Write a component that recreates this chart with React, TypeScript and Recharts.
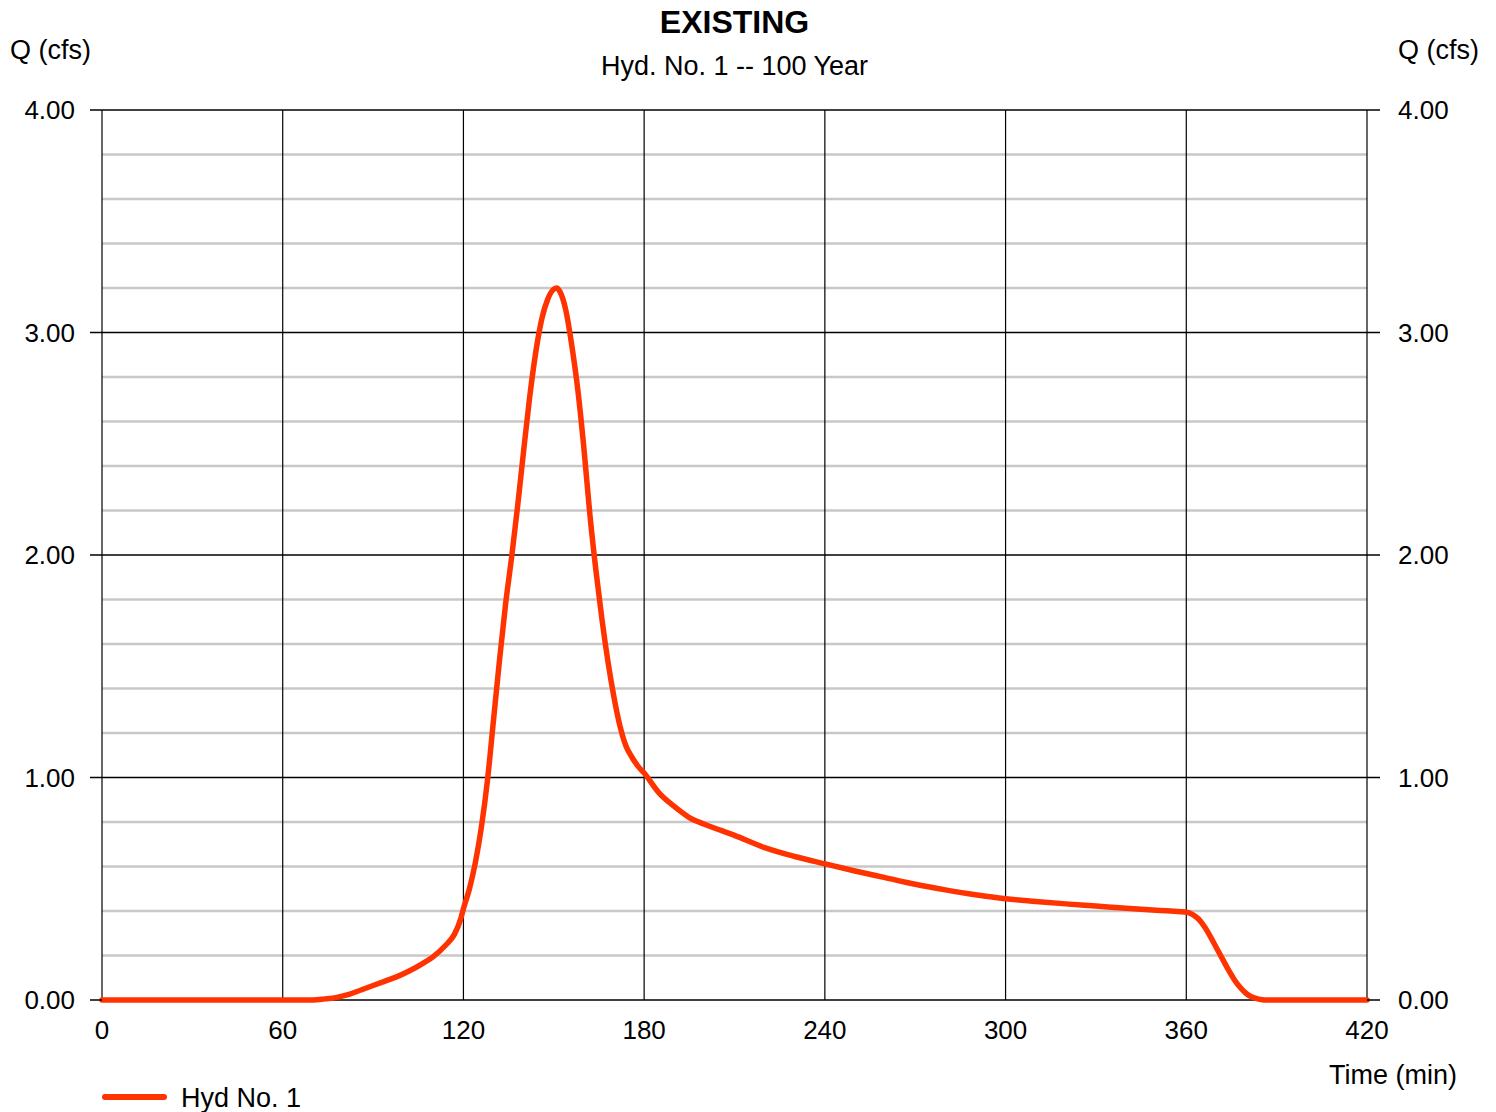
import { LineChart, Line, XAxis, YAxis, ReferenceLine } from "recharts";

// hydrograph ordinates
const times = [
  0, 70, 74, 78, 82, 86, 90, 94, 98, 102, 106, 110, 114, 117, 119, 120, 122, 124, 126, 128, 130,
  132, 134, 136, 138, 140, 142, 144, 146, 148, 150, 151, 152, 154, 156, 158, 160, 162, 164, 166,
  168, 170, 172, 174, 176, 178, 180, 185, 190, 195, 200, 210, 220, 230, 240, 250, 260, 270, 280,
  290, 300, 310, 320, 330, 340, 350, 358, 360, 362, 364, 366, 368, 370, 372, 374, 376, 378, 380,
  382, 384, 386, 420,
];
const flows = [
  0, 0, 0.005, 0.012, 0.025, 0.045, 0.065, 0.085, 0.105, 0.13, 0.16, 0.195, 0.245, 0.295, 0.36,
  0.41, 0.5, 0.62, 0.78, 0.99, 1.26, 1.53, 1.78, 1.99, 2.22, 2.47, 2.71, 2.91, 3.06, 3.15, 3.195,
  3.2, 3.185, 3.1, 2.94, 2.74, 2.48, 2.18, 1.93, 1.71, 1.52, 1.36, 1.23, 1.14, 1.09, 1.05, 1.02,
  0.93, 0.87, 0.82, 0.79, 0.74, 0.685, 0.645, 0.612, 0.58, 0.55, 0.52, 0.495, 0.473, 0.455, 0.443,
  0.432, 0.422, 0.412, 0.403, 0.397, 0.395, 0.385, 0.365, 0.33, 0.285, 0.235, 0.185, 0.135, 0.09,
  0.055, 0.028, 0.012, 0.004, 0, 0,
];

const timeTicks = [0, 60, 120, 180, 240, 300, 360, 420];
const majorQ = [0, 1, 2, 3, 4];
const minorQ = [0.2, 0.4, 0.6, 0.8, 1.2, 1.4, 1.6, 1.8, 2.2, 2.4, 2.6, 2.8, 3.2, 3.4, 3.6, 3.8];

const seriesName = "Hyd No. 1";
const title = "EXISTING";
const subtitle = "Hyd. No. 1 -- 100 Year";

const data = times.map((t, i) => ({ t, q: flows[i], q2: flows[i] }));

const FONT = "'Liberation Sans', Arial, sans-serif";
const RED = "#ff3300";
const tickStyle = { fontSize: 26, fill: "#000", fontFamily: FONT };

export default function App() {
  return (
    <div
      style={{
        position: "absolute",
        left: 0,
        top: 0,
        width: 1496,
        height: 1112,
        background: "#fff",
        fontFamily: FONT,
        color: "#000",
      }}
    >
      <LineChart
        width={1496}
        height={1112}
        data={data}
        margin={{ top: 110, right: 19, left: 12, bottom: 72 }}
      >
        <XAxis
          dataKey="t"
          type="number"
          domain={[0, 420]}
          ticks={timeTicks}
          axisLine={false}
          tickLine={false}
          tickSize={6}
          tickMargin={15}
          height={40}
          tick={tickStyle}
          interval={0}
        />
        <YAxis
          yAxisId="left"
          type="number"
          domain={[0, 4]}
          ticks={majorQ}
          width={90}
          axisLine={false}
          tickSize={12}
          tickMargin={15}
          tickLine={{ stroke: "#000", strokeWidth: 1.5 }}
          tick={tickStyle}
          tickFormatter={(v: number) => v.toFixed(2)}
          interval={0}
        />
        <YAxis
          yAxisId="right"
          orientation="right"
          type="number"
          domain={[0, 4]}
          ticks={majorQ}
          width={110}
          axisLine={false}
          tickSize={13}
          tickMargin={18}
          tickLine={{ stroke: "#000", strokeWidth: 1.5 }}
          tick={tickStyle}
          tickFormatter={(v: number) => v.toFixed(2)}
          interval={0}
        />
        {minorQ.map((v) => (
          <ReferenceLine key={"mn" + v} yAxisId="left" y={v} stroke="#c8c8c8" strokeWidth={2.5} />
        ))}
        {majorQ.map((v) => (
          <ReferenceLine key={"mj" + v} yAxisId="right" y={v} stroke="#000" strokeWidth={1.5} />
        ))}
        {timeTicks.map((v) => (
          <ReferenceLine key={"t" + v} yAxisId="left" x={v} stroke="#000" strokeWidth={1.2} />
        ))}
        {/* same hydrograph on the right scale, hidden, so the right axis gets its ticks */}
        <Line
          yAxisId="right"
          dataKey="q2"
          stroke="none"
          dot={false}
          activeDot={false}
          legendType="none"
          isAnimationActive={false}
        />
        <Line
          yAxisId="left"
          type="monotone"
          dataKey="q"
          name={seriesName}
          stroke={RED}
          strokeWidth={5.5}
          strokeLinecap="round"
          strokeLinejoin="round"
          dot={false}
          isAnimationActive={false}
        />
      </LineChart>

      <div
        style={{
          position: "absolute",
          left: 102,
          width: 1265,
          top: 4,
          textAlign: "center",
          fontSize: 32,
          fontWeight: "bold",
          lineHeight: "36px",
        }}
      >
        {title}
      </div>
      <div
        style={{
          position: "absolute",
          left: 102,
          width: 1265,
          top: 51,
          textAlign: "center",
          fontSize: 27,
          lineHeight: "30px",
        }}
      >
        {subtitle}
      </div>
      <div style={{ position: "absolute", left: 10, top: 35, fontSize: 27, lineHeight: "30px" }}>
        Q (cfs)
      </div>
      <div style={{ position: "absolute", left: 1398, top: 35, fontSize: 27, lineHeight: "30px" }}>
        Q (cfs)
      </div>
      <div style={{ position: "absolute", left: 1329, top: 1060, fontSize: 27, lineHeight: "30px" }}>
        Time (min)
      </div>
      <div
        style={{
          position: "absolute",
          left: 102,
          top: 1094,
          width: 65,
          height: 6,
          borderRadius: 3,
          background: RED,
        }}
      />
      <div style={{ position: "absolute", left: 181, top: 1083, fontSize: 27, lineHeight: "30px" }}>
        {seriesName}
      </div>
    </div>
  );
}
